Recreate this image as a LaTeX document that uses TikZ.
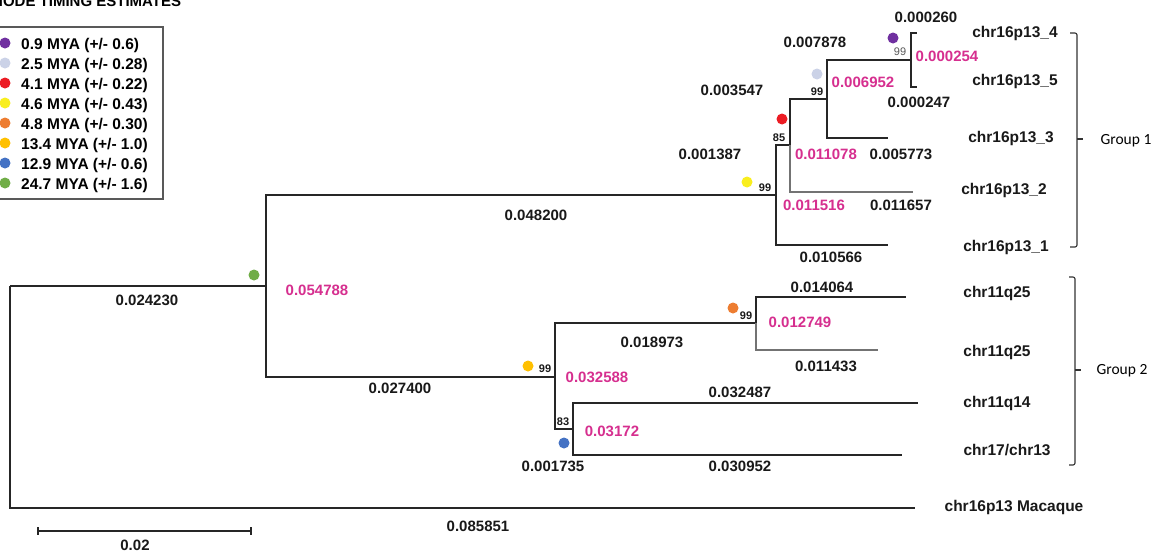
\documentclass[tikz,border=0pt]{standalone}
\usepackage{fontspec}
\setmainfont{Liberation Sans}
\newfontfamily\grpfont{Carlito}

\definecolor{estpink}{HTML}{D62F8F}
\definecolor{cPurple}{HTML}{7030A0}
\definecolor{cLav}{HTML}{CBD2E7}
\definecolor{cRed}{HTML}{EC1C24}
\definecolor{cYellow}{HTML}{F9EE1E}
\definecolor{cOrange}{HTML}{ED7D31}
\definecolor{cGold}{HTML}{FFC000}
\definecolor{cBlue}{HTML}{4472C4}
\definecolor{cGreen}{HTML}{70AD47}

\tikzset{
  branch/.style={line width=1.3pt, draw=black!85},
  faint/.style={line width=1.1pt, draw=black!55},
  bracket/.style={line width=1.1pt, draw=black!80, rounded corners=2pt},
  lbl/.style={font=\bfseries\fontsize{15}{18}\selectfont, inner sep=0pt, anchor=base, yshift=-5.3pt},
  len/.style={lbl, text=black!90},
  est/.style={lbl, text=estpink},
  tip/.style={lbl, font=\bfseries\fontsize{15.5}{18}\selectfont, text=black!90},
  boot/.style={font=\bfseries\fontsize{11}{13}\selectfont, inner sep=0pt, anchor=base, yshift=-4pt, text=black!90},
  bootgrey/.style={font=\fontsize{11}{13}\selectfont, inner sep=0pt, anchor=base, yshift=-4pt, text=black!65},
  grp/.style={font=\grpfont\fontsize{15.5}{18}\selectfont, inner sep=0pt, anchor=base, yshift=-5pt},
  key/.style={font=\bfseries\fontsize{15.5}{18}\selectfont, inner sep=0pt, anchor=base west, yshift=-5.5pt},
  dot/.style={circle, inner sep=0pt, minimum size=11pt, fill=#1},
}

\begin{document}
\begin{tikzpicture}[x=1pt, y=-1pt]
\clip (0,0) rectangle (1161,557);
\fill[white] (0,0) rectangle (1161,557);

% ---------- legend ----------
\node[font=\bfseries\fontsize{15}{18}\selectfont, inner sep=0pt, anchor=base west] (ktitle) at (-8,6) {NODE TIMING ESTIMATES};
\draw[line width=1.2pt, draw=black!65] (-3,27) rectangle (163,199);
\foreach \c/\t [count=\i from 0] in {
    cPurple/{0.9 MYA (+/- 0.6)},
    cLav/{2.5 MYA (+/- 0.28)},
    cRed/{4.1 MYA (+/- 0.22)},
    cYellow/{4.6 MYA (+/- 0.43)},
    cOrange/{4.8 MYA (+/- 0.30)},
    cGold/{13.4 MYA (+/- 1.0)},
    cBlue/{12.9 MYA (+/- 0.6)},
    cGreen/{24.7 MYA (+/- 1.6)}} {
  \node[dot=\c] (kd\i) at (5,43+20*\i) {};
  \node[key] (kt\i) at (21,44+20*\i) {\t};
}

% ---------- tree junctions ----------
\coordinate (root) at (10,286);
\coordinate (nG) at (266,286);
\coordinate (nY) at (776,195);
\coordinate (nR) at (790,145);
\coordinate (nL) at (827,99);
\coordinate (nP) at (911,60);
\coordinate (nAu) at (555,377);
\coordinate (nO) at (756,323);
\coordinate (nB) at (573,429);

% branch tips
\coordinate (e4) at (917,33);
\coordinate (e5) at (917,87);
\coordinate (e3) at (888,138);
\coordinate (e2) at (913,192);
\coordinate (e1) at (888,245);
\coordinate (eA) at (906,297);
\coordinate (eB) at (878,350);
\coordinate (eC) at (918,403);
\coordinate (eD) at (902,455);
\coordinate (eM) at (915,508);

% ---------- branches ----------
\draw[branch] (root) |- (eM);
\draw[branch] (root) -- (nG);
\draw[branch] (nG) |- (nY);
\draw[branch] (nG) |- (nAu);
\draw[branch] (nY) |- (nR);
\draw[branch] (nY) |- (e1);
\draw[branch] (nR) |- (nL);
\draw[faint] (nR) |- (e2);
\draw[branch] (nL) |- (nP);
\draw[branch] (nL) |- (e3);
\draw[branch] (nP) |- (e4);
\draw[branch] (nP) |- (e5);
\draw[branch] (nAu) |- (nO);
\draw[branch] (nAu) |- (nB);
\draw[branch] (nO) |- (eA);
\draw[faint] (nO) |- (eB);
\draw[branch] (nB) |- (eC);
\draw[branch] (nB) |- (eD);

% ---------- node age markers ----------
\node[dot=cPurple] (dP) at (893,38) {};
\node[dot=cLav] (dL) at (817,74) {};
\node[dot=cRed] (dR) at (782,119) {};
\node[dot=cYellow] (dY) at (747,182) {};
\node[dot=cGreen] (dG) at (254,275) {};
\node[dot=cOrange] (dO) at (733,308) {};
\node[dot=cGold] (dAu) at (528,366) {};
\node[dot=cBlue] (dB) at (564,443) {};

% ---------- bootstrap values ----------
\node[bootgrey] (bP) at (900,51) {99};
\node[boot] (bL) at (817,91) {99};
\node[boot] (bR) at (779,137) {85};
\node[boot] (bY) at (765,187) {99};
\node[boot] (bO) at (746,315) {99};
\node[boot] (bAu) at (545,368) {99};
\node[boot] (bB) at (563,421) {83};

% ---------- branch lengths ----------
\node[len] (l4) at (926,17) {0.000260};
\node[len] (lP) at (815,42) {0.007878};
\node[est] (sP) at (947,56) {0.000254};
\node[len] (lL) at (732,90) {0.003547};
\node[est] (sL) at (863,82) {0.006952};
\node[len] (l5) at (919,102) {0.000247};
\node[len] (lR) at (710,154) {0.001387};
\node[est] (sR) at (826,154) {0.011078};
\node[len] (l3) at (901,154) {0.005773};
\node[est] (sY) at (814,205) {0.011516};
\node[len] (l2) at (901,205) {0.011657};
\node[len] (lY) at (536,215) {0.048200};
\node[len] (l1) at (831,257) {0.010566};

\node[est] (sG) at (317,290) {0.054788};
\node[len] (lG) at (147,300) {0.024230};
\node[len] (lA) at (822,287) {0.014064};
\node[est] (sO) at (800,322) {0.012749};
\node[len] (lO) at (652,342) {0.018973};
\node[len] (lB2) at (826,366) {0.011433};
\node[est] (sAu) at (597,377) {0.032588};
\node[len] (lAu) at (400,388) {0.027400};
\node[len] (lC) at (740,392) {0.032487};
\node[est] (sB) at (612,431) {0.03172};
\node[len] (lB) at (553,466) {0.001735};
\node[len] (lD) at (740,466) {0.030952};
\node[len] (lM) at (478,526) {0.085851};

% ---------- leaf names ----------
\node[tip] (t4) at (1015,32) {chr16p13\_4};
\node[tip] (t5) at (1015,80) {chr16p13\_5};
\node[tip] (t3) at (1011,137) {chr16p13\_3};
\node[tip] (t2) at (1004,189) {chr16p13\_2};
\node[tip] (t1) at (1006,246) {chr16p13\_1};
\node[tip] (tA) at (997,292) {chr11q25};
\node[tip] (tB) at (997,351) {chr11q25};
\node[tip] (tC) at (997,402) {chr11q14};
\node[tip] (tD) at (1007,450) {chr17/chr13};
\node[tip] (tM) at (1014,506) {chr16p13 Macaque};

% ---------- group brackets ----------
\draw[bracket] (1070,33) -- (1077,33) -- (1077,247) -- (1070,247);
\draw[bracket] (1077,139) -- (1083,139);
\node[grp] (g1) at (1126,139) {Group 1};
\draw[bracket] (1069,277) -- (1075,277) -- (1075,465) -- (1069,465);
\draw[bracket] (1075,370) -- (1081,370);
\node[grp] (g2) at (1122,369) {Group 2};

% ---------- scale bar ----------
\coordinate (sb1) at (38,531);
\coordinate (sb2) at (251,531);
\draw[branch] (sb1) -- (sb2);
\draw[branch] (sb1) ++(0,-4) -- ++(0,8);
\draw[branch] (sb2) ++(0,-4) -- ++(0,8);
\node[len] (sbl) at (135,545) {0.02};
\end{tikzpicture}
\end{document}
